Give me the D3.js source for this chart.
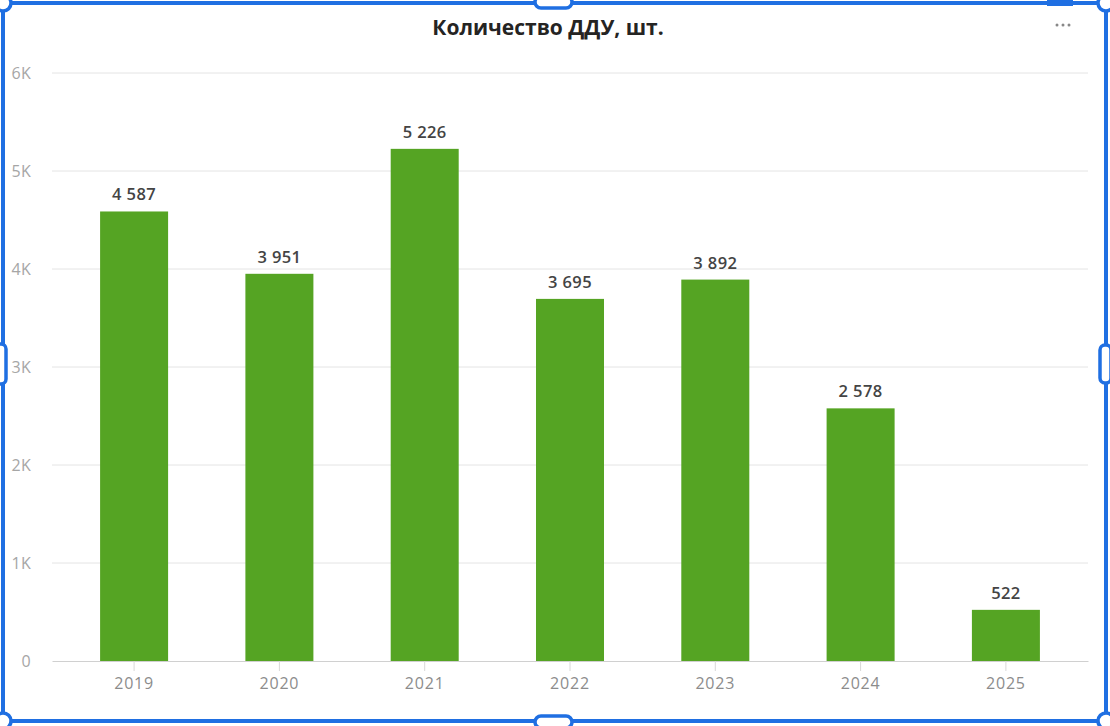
<!DOCTYPE html>
<html><head><meta charset="utf-8">
<script src="https://cdn.jsdelivr.net/npm/d3@7"></script>
<style>
html,body{margin:0;padding:0;background:#fff;}
svg{display:block;font-family:"Open Sans","Noto Sans",sans-serif;}
</style></head>
<body>
<svg id="chart" width="1110" height="726"></svg>
<script>
const years = ["2019","2020","2021","2022","2023","2024","2025"];
const counts = [4587, 3951, 5226, 3695, 3892, 2578, 522];
const yTicks = [0, 1000, 2000, 3000, 4000, 5000, 6000];
const yTickLabels = ["0","1K","2K","3K","4K","5K","6K"];
const title = "Количество ДДУ, шт.";

(function(){
const svg = d3.select("#chart");
const pL = 52, pR = 1088, pT = 73, pB = 661;

const x = d3.scaleBand().domain(years).range([pL, pR]).paddingInner(0.532).paddingOuter(0.331);
const y = d3.scaleLinear().domain([0, 6000]).range([pB, pT]);

// gridlines
svg.append("g").selectAll("line").data(yTicks.slice(1)).join("line")
  .attr("x1", pL).attr("x2", pR)
  .attr("y1", d => y(d)).attr("y2", d => y(d))
  .attr("stroke", "#e4e4e4").attr("stroke-width", 1);

// y labels
svg.append("g").selectAll("text").data(yTicks).join("text")
  .attr("x", 31).attr("y", d => y(d) + 5.5)
  .attr("text-anchor", "end")
  .attr("font-size", 16).attr("letter-spacing", 0.3).attr("fill", "#a6a6a6")
  .text((d, i) => yTickLabels[i]);

// bars
svg.append("g").selectAll("rect").data(counts).join("rect")
  .attr("x", (d, i) => x(years[i])).attr("width", x.bandwidth())
  .attr("y", d => y(d)).attr("height", d => y(0) - y(d))
  .attr("fill", "#55a423");

// value labels
const fmt = v => d3.format(",")(v).replace(/,/g, " ");
svg.append("g").selectAll("text").data(counts).join("text")
  .attr("x", (d, i) => x(years[i]) + x.bandwidth() / 2)
  .attr("y", d => y(d) - 11)
  .attr("text-anchor", "middle")
  .attr("font-size", 16.5).attr("letter-spacing", 0.4).attr("font-weight", 600).attr("fill", "#444")
  .text(d => fmt(d));

// x axis
const xAxis = d3.axisBottom(x).tickSizeInner(10).tickSizeOuter(0).tickPadding(6);
const gx = svg.append("g").attr("transform", `translate(0,${pB})`).call(xAxis);
gx.select(".domain").attr("stroke", "#d0d0d0");
gx.selectAll(".tick line").attr("stroke", "#d8d8d8");
gx.selectAll(".tick text").attr("y", 28).attr("dy", null)
  .attr("font-size", 16).attr("letter-spacing", 0.8).attr("fill", "#8c8c8c")
  .attr("font-family", "'Open Sans','Noto Sans',sans-serif");

// title
svg.append("text").attr("x", 548).attr("y", 35).attr("text-anchor", "middle")
  .attr("font-size", 21).attr("font-weight", 700).attr("fill", "#252423")
  .text(title);

// ellipsis
svg.append("g").selectAll("circle").data([0,1,2]).join("circle")
  .attr("cx", d => 1057 + d * 6).attr("cy", 25).attr("r", 1.5).attr("fill", "#888");

// selection frame
const blue = "#1f6fe2";
svg.append("rect").attr("x", 3).attr("y", 3).attr("width", 1103).attr("height", 718)
  .attr("fill", "none").attr("stroke", blue).attr("stroke-width", 4);
[[3,3],[1106,3],[3,721],[1106,721]].forEach(([cx,cy]) => {
  svg.append("circle").attr("cx", cx).attr("cy", cy).attr("r", 8)
    .attr("fill", "#fff").attr("stroke", blue).attr("stroke-width", 3.5);
});
svg.append("rect").attr("x", 1047).attr("y", 0).attr("width", 26).attr("height", 6).attr("fill", blue);
svg.append("rect").attr("x", 535).attr("y", -4).attr("width", 37).attr("height", 12).attr("rx", 6)
  .attr("fill", "#fff").attr("stroke", blue).attr("stroke-width", 3.5);
svg.append("rect").attr("x", 535).attr("y", 716).attr("width", 37).attr("height", 12).attr("rx", 6)
  .attr("fill", "#fff").attr("stroke", blue).attr("stroke-width", 3.5);
svg.append("rect").attr("x", -5).attr("y", 344).attr("width", 11).attr("height", 40).attr("rx", 5)
  .attr("fill", "#fff").attr("stroke", blue).attr("stroke-width", 3.5);
svg.append("rect").attr("x", 1100).attr("y", 345).attr("width", 11).attr("height", 38).attr("rx", 5)
  .attr("fill", "#fff").attr("stroke", blue).attr("stroke-width", 3.5);
})();
</script>
</body></html>
